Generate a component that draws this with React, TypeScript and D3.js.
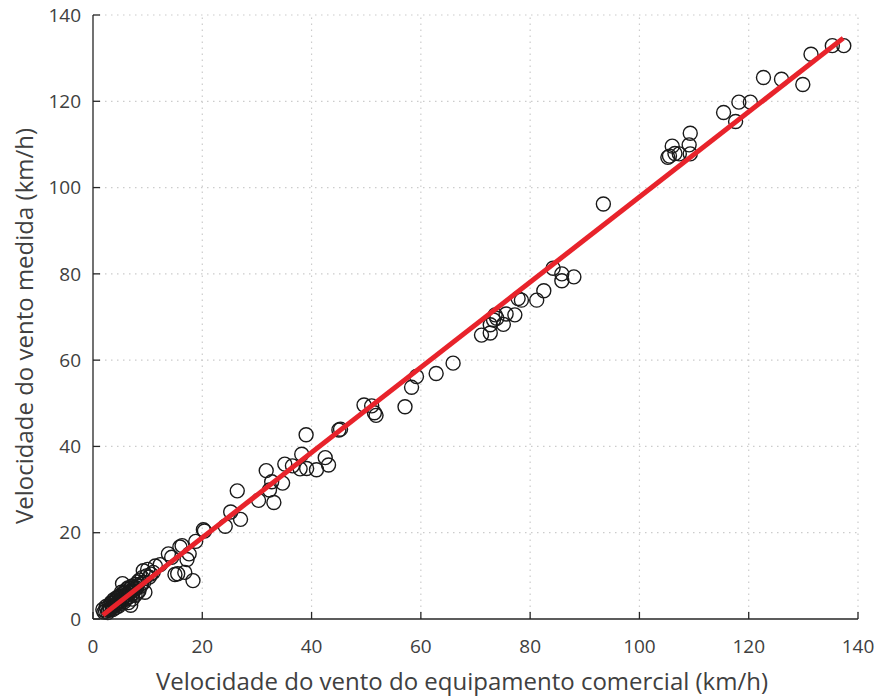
import React, { useEffect, useRef } from "react";
import * as d3 from "d3";

const xTicks = [0, 20, 40, 60, 80, 100, 120, 140];
const yTicks = [0, 20, 40, 60, 80, 100, 120, 140];
const xLabel = "Velocidade do vento do equipamento comercial (km/h)";
const yLabel = "Velocidade do vento medida (km/h)";

// [commercial, measured]
const lowPoints: [number, number][] = [
  [1.8, 2.2], [2.0, 1.6], [2.3, 1.8], [2.4, 2.9], [2.5, 2.5], [2.7, 1.5], [2.8, 2.0], [3.0, 3.0],
  [3.1, 2.1], [3.2, 2.4], [3.3, 3.8], [3.4, 3.6], [3.5, 2.8], [3.6, 2.2], [3.7, 3.2], [3.8, 4.5],
  [3.9, 4.0], [4.0, 3.1], [4.1, 2.6], [4.2, 4.4], [4.3, 3.5], [4.4, 5.0], [4.5, 4.8], [4.6, 3.9],
  [4.7, 3.0], [4.8, 5.2], [4.9, 4.3], [5.0, 3.6], [5.1, 5.6], [5.2, 6.2], [5.3, 4.7], [5.4, 8.2],
  [5.5, 5.9], [5.6, 5.0], [5.7, 4.0], [5.8, 6.3], [5.9, 4.5], [6.0, 5.4], [6.1, 6.8], [6.2, 4.8],
  [6.3, 5.8], [6.4, 7.2], [6.5, 3.8], [6.6, 6.2], [6.7, 5.2], [6.8, 7.0], [6.9, 3.2], [7.0, 6.5],
  [7.1, 7.6], [7.2, 4.6], [7.3, 5.9], [7.5, 7.3], [7.6, 6.8], [7.7, 5.5], [7.8, 8.0], [8.0, 7.2],
  [8.1, 6.0], [8.2, 8.6], [8.4, 6.5], [8.5, 9.0], [8.7, 7.6], [8.9, 8.2], [9.0, 9.6], [9.2, 11.2],
  [9.3, 8.5], [9.5, 6.2], [9.8, 10.0], [10.0, 11.5], [10.3, 9.7], [10.6, 10.4], [11.0, 10.8],
  [11.4, 12.3], [12.3, 12.6], [13.8, 15.1], [14.4, 14.3], [15.0, 10.3], [15.5, 10.5], [15.9, 16.7],
  [16.3, 17.0], [16.8, 10.8], [17.2, 13.8], [17.6, 15.1], [18.3, 8.9], [18.8, 18.0], [20.2, 20.7],
  [20.4, 20.4],
];
const midPoints: [number, number][] = [
  [24.2, 21.5], [25.2, 24.8], [26.4, 29.7], [27.0, 23.1], [30.3, 27.5], [31.7, 34.4], [32.3, 29.9],
  [32.7, 31.8], [33.1, 27.0], [34.7, 31.5], [35.1, 35.9], [36.5, 35.5], [37.9, 34.8], [38.2, 38.2],
  [39.1, 34.9], [39.0, 42.7], [40.9, 34.6], [42.5, 37.4], [43.1, 35.7], [45.0, 43.8], [45.3, 44.0],
  [49.6, 49.6], [51.0, 49.4], [51.5, 47.8], [51.8, 47.2], [57.1, 49.2], [58.3, 53.7], [59.2, 56.2],
  [62.8, 56.9], [65.9, 59.3], [71.1, 65.8], [72.7, 66.3], [72.7, 68.2], [73.3, 69.3], [73.9, 69.7],
  [73.6, 70.5], [75.1, 68.3], [75.6, 70.7], [77.2, 70.5], [77.8, 74.3], [78.4, 73.9], [81.2, 73.9],
  [82.5, 76.1], [84.2, 81.3], [85.8, 80.0], [85.8, 78.4], [88.0, 79.3], [93.4, 96.2],
];
const highPoints: [number, number][] = [
  [105.2, 107.0], [105.5, 107.3], [106.0, 109.6], [106.5, 107.9], [107.3, 107.8], [109.1, 109.9],
  [109.3, 112.6], [109.3, 107.8], [115.4, 117.4], [117.6, 115.3], [118.2, 119.8], [120.3, 119.8],
  [122.7, 125.5], [126.0, 125.1], [129.9, 123.9], [131.4, 130.9], [135.3, 132.9], [137.4, 132.9],
];
const fitX = [1.8, 137.3];
const fitSlope = 0.987;
const fitIntercept = -0.88;

const W = 877;
const H = 697;
const FONT = "'Open Sans', 'Noto Sans', sans-serif";

export default function App() {
  const ref = useRef<SVGSVGElement>(null);
  useEffect(() => {
    const svg = d3.select(ref.current);
    svg.selectAll("*").remove();
    const x = d3.scaleLinear().domain([0, 140]).range([93, 858]);
    const y = d3.scaleLinear().domain([0, 140]).range([619, 15]);
    const g = svg.append("g");

    // grid
    g.selectAll(".gx").data(xTicks.slice(1)).enter().append("line")
      .attr("x1", (d) => x(d)).attr("x2", (d) => x(d))
      .attr("y1", y(0)).attr("y2", y(140))
      .attr("stroke", "#cccccc").attr("stroke-width", 1.2).attr("stroke-dasharray", "1.5,4.5");
    g.selectAll(".gy").data(yTicks.slice(1)).enter().append("line")
      .attr("y1", (d) => y(d)).attr("y2", (d) => y(d))
      .attr("x1", x(0)).attr("x2", x(140))
      .attr("stroke", "#cccccc").attr("stroke-width", 1.2).attr("stroke-dasharray", "1.5,4.5");

    const all = [...lowPoints, ...midPoints, ...highPoints];
    g.selectAll(".pt").data(all).enter().append("circle")
      .attr("cx", (d) => x(d[0])).attr("cy", (d) => y(d[1]))
      .attr("r", 7).attr("fill", "none").attr("stroke", "#1a1a1a").attr("stroke-width", 1.4);

    const line = d3.line<number>().x((d) => x(d)).y((d) => y(fitSlope * d + fitIntercept));
    g.append("path").attr("d", line(fitX) as string)
      .attr("stroke", "#e8232b").attr("stroke-width", 5).attr("fill", "none");

    // axes
    const axisColor = "#262626";
    g.append("line").attr("x1", x(0)).attr("x2", x(140)).attr("y1", y(0)).attr("y2", y(0))
      .attr("stroke", axisColor).attr("stroke-width", 1.3);
    g.append("line").attr("x1", x(0)).attr("x2", x(0)).attr("y1", y(0)).attr("y2", y(140))
      .attr("stroke", axisColor).attr("stroke-width", 1.3);
    g.selectAll(".tx").data(xTicks).enter().append("line")
      .attr("x1", (d) => x(d)).attr("x2", (d) => x(d)).attr("y1", y(0)).attr("y2", y(0) - 7)
      .attr("stroke", axisColor).attr("stroke-width", 1.3);
    g.selectAll(".ty").data(yTicks).enter().append("line")
      .attr("y1", (d) => y(d)).attr("y2", (d) => y(d)).attr("x1", x(0)).attr("x2", x(0) + 7)
      .attr("stroke", axisColor).attr("stroke-width", 1.3);

    const textColor = "#404040";
    g.selectAll(".lx").data(xTicks).enter().append("text")
      .attr("x", (d) => x(d)).attr("y", 653).attr("text-anchor", "middle")
      .attr("font-family", FONT).attr("font-size", 19).attr("fill", textColor)
      .text((d) => String(d));
    g.selectAll(".ly").data(yTicks).enter().append("text")
      .attr("x", 81).attr("y", (d) => y(d)).attr("dy", "0.35em").attr("text-anchor", "end")
      .attr("font-family", FONT).attr("font-size", 19).attr("fill", textColor)
      .text((d) => String(d));

    g.append("text").attr("x", 462).attr("y", 690).attr("text-anchor", "middle")
      .attr("font-family", FONT).attr("font-size", 24).attr("fill", textColor).text(xLabel);
    g.append("text").attr("transform", `translate(33,${326}) rotate(-90)`).attr("text-anchor", "middle")
      .attr("font-family", FONT).attr("font-size", 24).attr("fill", textColor).text(yLabel);
  }, []);
  return (
    <svg ref={ref} width={W} height={H}
      style={{ position: "absolute", left: 0, top: 0, background: "#fff" }} />
  );
}
